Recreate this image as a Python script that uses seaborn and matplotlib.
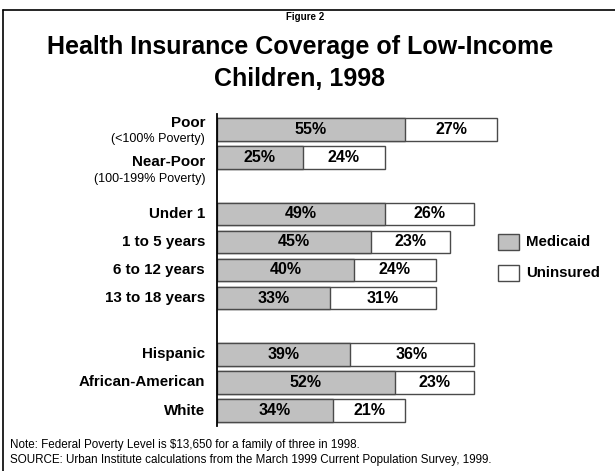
import matplotlib
matplotlib.use("Agg")
import matplotlib.pyplot as plt
from matplotlib.patches import Rectangle
from matplotlib.lines import Line2D
import seaborn as sns
import pandas as pd

sns.set_theme(style="white")
plt.rcParams["font.family"] = ["Liberation Sans", "DejaVu Sans"]
plt.rcParams["text.color"] = "black"

# Rows of the chart (slot index on the vertical axis; blank slots separate groups)
categories = ["Poor", "Near-Poor", "Under 1", "1 to 5 years", "6 to 12 years",
              "13 to 18 years", "Hispanic", "African-American", "White"]
subtitles = ["(<100% Poverty)", "(100-199% Poverty)", "", "", "", "", "", "", ""]
slots = [0, 1, 3, 4, 5, 6, 8, 9, 10]
medicaid = [55, 25, 49, 45, 40, 33, 39, 52, 34]
uninsured = [27, 24, 26, 23, 24, 31, 36, 23, 21]

GRAY = "#c0c0c0"
EDGE = "#4a4a4a"

df = pd.DataFrame({
    "slot": slots,
    "medicaid": medicaid,
    "uninsured": uninsured,
})
df["total"] = df["medicaid"] + df["uninsured"]

W, H = 615, 471
fig = plt.figure(figsize=(W / 100, H / 100), dpi=100)

# axes: left edge at x=217 px, 3.42 px per percentage point
ax_left, ax_top, ax_bottom = 217, 114, 426
ax_w = 400
ax = fig.add_axes([ax_left / W, 1 - ax_bottom / H, ax_w / W, (ax_bottom - ax_top) / H])

# Stacked bars: white total bar first, gray Medicaid share drawn over it
sns.barplot(data=df, x="total", y="slot", orient="y", native_scale=True,
            color="white", edgecolor=EDGE, linewidth=1.0, width=0.8,
            saturation=1, ax=ax)
sns.barplot(data=df, x="medicaid", y="slot", orient="y", native_scale=True,
            color=GRAY, edgecolor=EDGE, linewidth=1.0, width=0.8,
            saturation=1, ax=ax)

ax.set_xlim(0, ax_w / 3.42)
ax.set_ylim(10.55, -0.55)
ax.set_xlabel("")
ax.set_ylabel("")
ax.set_xticks([])
ax.set_yticks([])
for s in ["top", "right", "bottom"]:
    ax.spines[s].set_visible(False)
ax.spines["left"].set_color("black")
ax.spines["left"].set_linewidth(1.3)

# Value labels centred in each segment
for _, r in df.iterrows():
    ax.text(r["medicaid"] / 2, r["slot"], f"{r['medicaid']}%", ha="center",
            va="center", fontsize=11.5, fontweight="bold", color="black")
    ax.text(r["medicaid"] + r["uninsured"] / 2, r["slot"], f"{r['uninsured']}%",
            ha="center", va="center", fontsize=11.5, fontweight="bold", color="black")

# Category labels to the left of the axis (two-line labels for the poverty rows)
label_offsets = {"Poor": (4.8, -6.7), "Near-Poor": (-2.9, -15.4)}
for cat, sub, y in zip(categories, subtitles, slots):
    main_dy, sub_dy = label_offsets.get(cat, (0, 0))
    ax.annotate(cat, xy=(0, y), xycoords=("axes fraction", "data"),
                xytext=(-8.6, main_dy), textcoords="offset points",
                ha="right", va="center", fontsize=10.9, fontweight="bold")
    if sub:
        ax.annotate(sub, xy=(0, y), xycoords=("axes fraction", "data"),
                    xytext=(-8.6, sub_dy), textcoords="offset points",
                    ha="right", va="center", fontsize=9)

# Legend
def fx(px):
    return px / W

def fy(py):
    return 1 - py / H

for (label, color), yc in zip([("Medicaid", GRAY), ("Uninsured", "white")], [242, 273]):
    fig.patches.append(Rectangle((fx(498), fy(yc + 8)), fx(519) - fx(498), 16 / H,
                                 transform=fig.transFigure, facecolor=color,
                                 edgecolor=EDGE, linewidth=1.0))
    fig.text(fx(526), fy(yc), label, ha="left", va="center",
             fontsize=10.8, fontweight="bold")

# Titles
fig.text(fx(305), fy(17), "Figure 2", ha="center", va="center", fontsize=7, fontweight="bold")
fig.text(fx(300), fy(47), "Health Insurance Coverage of Low-Income", ha="center",
         va="center", fontsize=18, fontweight="bold")
fig.text(fx(300), fy(79), "Children, 1998", ha="center", va="center",
         fontsize=18, fontweight="bold")

# Notes
fig.text(fx(10), fy(445), "Note: Federal Poverty Level is $13,650 for a family of three in 1998.",
         ha="left", va="center", fontsize=8.4)
fig.text(fx(10), fy(460),
         "SOURCE: Urban Institute calculations from the March 1999 Current Population Survey, 1999.",
         ha="left", va="center", fontsize=8.4)

# Frame lines along the top and left
fig.add_artist(Line2D([fx(3), 1], [fy(10), fy(10)], transform=fig.transFigure,
                      color="black", linewidth=1.2))
fig.add_artist(Line2D([fx(3), fx(3)], [fy(10), 0], transform=fig.transFigure,
                      color="black", linewidth=1.2))

fig.savefig("out.png", dpi=100, facecolor="white")
